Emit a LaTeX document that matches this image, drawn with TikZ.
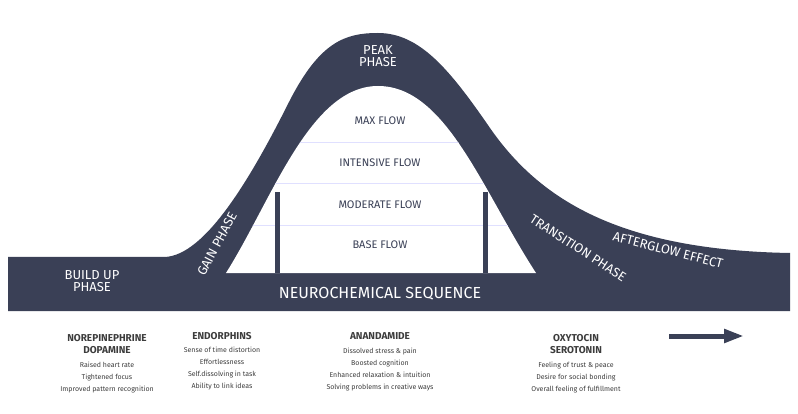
\documentclass[tikz,border=0pt]{standalone}
\usepackage{fontspec}
\setmainfont{Fira Sans}
\usetikzlibrary{arrows.meta}
\definecolor{navy}{HTML}{3A4056}
\definecolor{txt}{HTML}{3C3C3C}
\begin{document}
\begin{tikzpicture}[x=1pt,y=-1pt,
  lbl/.style={text=white,font=\fontsize{13}{14}\selectfont,align=center},
  fl/.style={text=navy,font=\fontsize{11}{12}\selectfont},
  hd/.style={text=txt,font=\bfseries\fontsize{10}{12}\selectfont,align=center},
  it/.style={text=txt,font=\fontsize{7}{12}\selectfont,align=center}]
\useasboundingbox (0,0) rectangle (798,414);
\fill[navy] (8,257) -- (165,257) .. controls (205,255) and (250,180) .. (290,100)
  .. controls (320,42) and (345,33) .. (378,33) .. controls (420,33) and (450,70) .. (490,128)
  .. controls (540,200) and (620,250) .. (790,253) -- (790,311) -- (8,311) -- cycle;
\begin{scope}
\clip (226,273) .. controls (272,200) and (310,86) .. (378,86)
  .. controls (446,86) and (482,190) .. (536,273) -- cycle;
\fill[white] (0,0) rectangle (798,300);
\foreach \y in {142,183,225} \draw[blue!12,line width=0.6pt] (250,\y) -- (520,\y);
\end{scope}
\fill[navy] (275,192) rectangle (280,273);
\fill[navy] (483,192) rectangle (488,273);
\node[lbl] (peak) at (378,56) {PEAK\\[-2pt]PHASE};
\node[fl] (max) at (380,121) {MAX FLOW};
\node[fl] (int) at (380,163) {INTENSIVE FLOW};
\node[fl] (mod) at (380,205) {MODERATE FLOW};
\node[fl] (base) at (380,245) {BASE FLOW};
\node[lbl] (build) at (92,281) {BUILD UP\\[-2pt]PHASE};
\node[lbl,rotate=62] (gain) at (217,244) {GAIN PHASE};
\node[lbl,rotate=-33,inner sep=0pt] (trans) at (578,248) {TRANSITION PHASE};
\node[lbl,rotate=-14.5,inner sep=0pt] (after) at (668,250) {AFTERGLOW EFFECT};
\node[lbl,font=\fontsize{16}{18}\selectfont] (neuro) at (380,294) {NEUROCHEMICAL SEQUENCE};
\node[hd] (h1) at (107,344) {NOREPINEPHRINE\\DOPAMINE};
\node[it] (i1) at (107,378) {Raised heart rate\\Tightened focus\\Improved pattern recognition};
\node[hd] (h2) at (222,336) {ENDORPHINS};
\node[it] (i2) at (222,369) {Sense of time distortion\\Effortlessness\\Self.dissolving in task\\Ability to link ideas};
\node[hd] (h3) at (380,336) {ANANDAMIDE};
\node[it] (i3) at (380,370) {Dissolved stress \& pain\\Boosted cognition\\Enhanced relaxation \& intuition\\Solving problems in creative ways};
\node[hd] (h4) at (576,344) {OXYTOCIN\\SEROTONIN};
\node[it] (i4) at (576,378) {Feeling of trust \& peace\\Desire for social bonding\\Overall feeling of fulfillment};
\coordinate (a1) at (669,336);
\coordinate (a2) at (744,336);
\draw[navy,line width=5pt,-{Triangle[length=20pt,width=13pt]}] (a1) -- (a2);
\end{tikzpicture}
\end{document}
